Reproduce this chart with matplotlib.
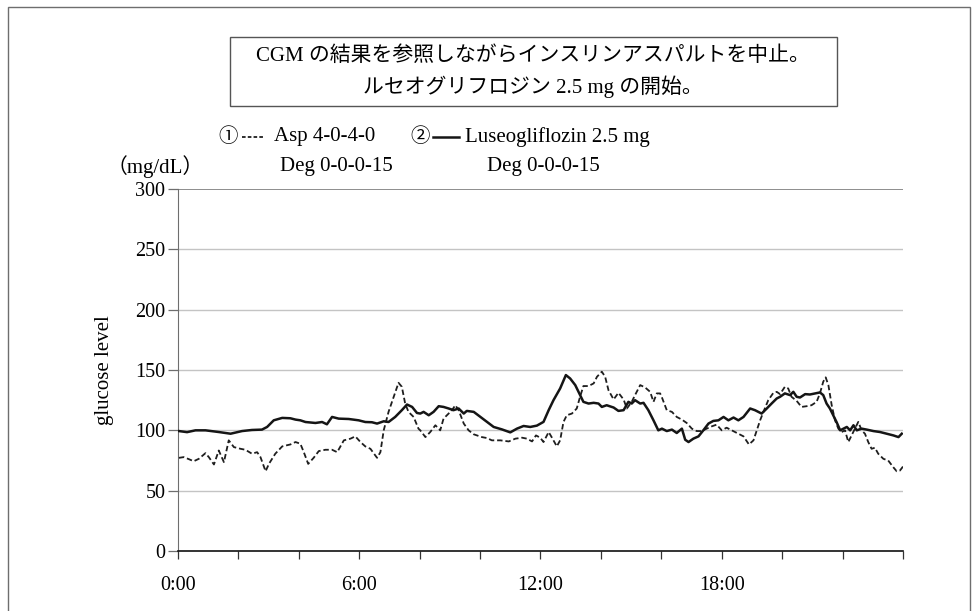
import matplotlib
matplotlib.use("Agg")
import matplotlib.pyplot as plt
from matplotlib.lines import Line2D
from matplotlib.patches import Rectangle

# --- CGM readings (hour of day, mg/dL) ---
asp_hours = [0.03, 0.19, 0.36, 0.52, 0.69, 0.91, 1.02, 1.19, 1.35, 1.52, 1.68, 1.85,
             2.07, 2.23, 2.45, 2.62, 2.73, 2.90, 3.01, 3.22, 3.45, 3.72, 3.89, 4.05,
             4.16, 4.31, 4.49, 4.66, 4.88, 5.10, 5.27, 5.49, 5.71, 5.87, 6.04, 6.20,
             6.37, 6.59, 6.70, 6.81, 6.97, 7.14, 7.30, 7.41, 7.52, 7.63, 7.80, 7.96,
             8.02, 8.19, 8.35, 8.52, 8.68, 8.79, 8.96, 9.07, 9.18, 9.29, 9.46, 9.62,
             9.79, 10.06, 10.23, 10.39, 10.67, 10.95, 11.17, 11.39, 11.55, 11.72, 11.85,
             11.99, 12.10, 12.27, 12.38, 12.54, 12.65, 12.76, 12.87, 13.04, 13.20, 13.31,
             13.42, 13.59, 13.76, 13.87, 14.03, 14.14, 14.25, 14.42, 14.58, 14.75, 14.86,
             15.02, 15.13, 15.30, 15.46, 15.63, 15.74, 15.85, 15.96, 16.02, 16.18, 16.35,
             16.51, 16.68, 16.84, 17.01, 17.17, 17.34, 17.50, 17.67, 17.83, 18.00, 18.16,
             18.33, 18.55, 18.72, 18.90, 19.05, 19.16, 19.27, 19.38, 19.54, 19.71, 19.82,
             19.93, 20.09, 20.20, 20.31, 20.48, 20.64, 20.81, 20.97, 21.14, 21.25, 21.36,
             21.44, 21.53, 21.64, 21.75, 21.86, 21.97, 22.08, 22.19, 22.30, 22.41, 22.52,
             22.63, 22.74, 22.85, 22.96, 23.07, 23.18, 23.35, 23.51, 23.68, 23.79, 23.90,
             24.0]
asp_glucose = [77.2, 77.8, 76.1, 74.4, 76.4, 81.1, 77.8, 71.7, 83.3, 73.6, 91.7, 86.1,
               84.7, 83.9, 80.6, 81.9, 77.8, 66.1, 72.2, 80.6, 86.7, 88.3, 90.3, 88.9,
               82.2, 72.2, 77.2, 82.8, 83.9, 83.9, 81.9, 91.7, 93.1, 95.0, 90.3, 86.7,
               84.7, 77.2, 81.9, 100.0, 115.3, 127.8, 139.4, 136.1, 122.2, 115.3, 111.1, 101.4,
               100.0, 94.4, 98.6, 104.2, 100.0, 109.7, 113.9, 116.7, 120.8, 116.7, 105.6, 100.0,
               96.7, 94.4, 93.6, 91.7, 91.7, 90.8, 93.1, 93.9, 93.1, 90.8, 95.8,
               93.9, 90.3, 98.6, 93.9, 86.7, 91.7, 106.9, 112.5, 113.9, 118.1, 127.8,
               136.7, 136.7, 138.9, 144.4, 148.6, 144.4, 133.3, 125.6, 131.1, 125.6, 118.1,
               123.6, 129.2, 137.5, 135.6, 131.9, 123.6, 130.6, 130.6, 127.2, 116.7, 115.3,
               111.1, 108.9, 106.1, 101.4, 99.4, 99.4, 101.4, 103.3, 104.7, 100.0, 102.2,
               100.0, 97.2, 95.0, 88.3, 91.7, 100.0, 108.3, 115.3, 125.0, 131.1, 131.9,
               130.0, 136.1, 134.7, 127.8, 124.4, 119.4, 120.0, 120.8, 123.6, 130.6, 140.3,
               143.9, 137.5, 120.8, 108.3, 101.4, 98.6, 100.0, 90.3, 95.8, 101.4, 107.0,
               100.0, 97.2, 90.3, 84.7, 85.6, 80.6, 76.4, 75.0, 69.4, 66.1, 66.7,
               70.0]

luseo_hours = [0.00, 0.30, 0.58, 0.91, 1.35, 1.74, 2.12, 2.45, 2.78, 2.95, 3.17, 3.45,
               3.72, 3.89, 4.05, 4.22, 4.55, 4.77, 4.93, 5.10, 5.32, 5.65, 5.98, 6.20,
               6.42, 6.59, 6.81, 6.97, 7.19, 7.41, 7.58, 7.75, 7.91, 8.02, 8.13, 8.30,
               8.46, 8.63, 8.79, 8.96, 9.12, 9.29, 9.46, 9.56, 9.79, 10.01, 10.23, 10.45,
               10.72, 11.00, 11.22, 11.44, 11.66, 11.88, 12.10, 12.27, 12.43, 12.65, 12.84,
               12.98, 13.15, 13.31, 13.42, 13.59, 13.76, 13.92, 14.03, 14.19, 14.42, 14.58,
               14.75, 14.91, 15.02, 15.13, 15.30, 15.41, 15.57, 15.74, 15.90, 16.02, 16.18,
               16.35, 16.51, 16.68, 16.79, 16.90, 17.06, 17.23, 17.39, 17.56, 17.72, 17.89,
               18.06, 18.22, 18.39, 18.55, 18.72, 18.94, 19.10, 19.32, 19.49, 19.65, 19.82,
               19.93, 20.09, 20.26, 20.37, 20.48, 20.59, 20.76, 20.92, 21.09, 21.25, 21.36,
               21.47, 21.58, 21.69, 21.80, 21.92, 22.03, 22.14, 22.25, 22.36, 22.47, 22.63,
               22.80, 23.02, 23.24, 23.46, 23.68, 23.85, 23.96]
luseo_glucose = [99.5, 98.5, 100.0, 100.0, 98.6, 97.2, 99.4, 100.3, 100.6, 102.8, 108.3, 110.3,
                 110.0, 108.9, 108.3, 106.9, 106.1, 106.9, 105.0, 111.1, 109.7, 109.4, 108.3, 106.9,
                 106.7, 105.6, 107.5, 106.9, 111.1, 116.7, 121.4, 119.4, 114.4, 113.9, 115.3, 112.5,
                 115.3, 120.0, 119.4, 118.1, 116.7, 118.1, 113.9, 116.1, 115.3, 111.1, 106.9, 102.8,
                 100.8, 98.3, 101.4, 103.6, 102.8, 103.9, 107.0, 116.7, 125.0, 134.7, 145.8,
                 143.0, 137.5, 129.2, 123.6, 122.2, 122.8, 122.2, 119.4, 120.8, 118.9, 116.1,
                 116.7, 123.6, 122.2, 125.0, 122.2, 122.8, 116.7, 108.3, 100.0, 101.4, 99.4,
                 100.6, 97.8, 101.4, 92.2, 90.3, 93.1, 95.0, 100.0, 105.6, 107.8, 108.3,
                 111.1, 108.3, 110.6, 108.3, 111.1, 118.1, 116.7, 113.9, 118.1, 122.2, 126.4,
                 127.8, 130.6, 129.2, 131.9, 127.8, 127.2, 130.0, 129.7, 130.6, 131.4, 129.2,
                 122.2, 118.1, 112.5, 106.9, 100.0, 101.4, 102.8, 100.0, 104.2, 100.0, 101.4,
                 100.6, 99.4, 98.6, 97.2, 95.8, 94.4, 97.2]

y_ticks = [0, 50, 100, 150, 200, 250, 300]
x_ticks = [0, 2, 4, 6, 8, 10, 12, 14, 16, 18, 20, 22, 24]
x_tick_labels = ["0:00", "", "", "6:00", "", "", "12:00", "", "", "18:00", "", "", ""]

title_lines = ["CGM の結果を参照しながらインスリンアスパルトを中止。",
               "ルセオグリフロジン 2.5 mg の開始。"]
legend_asp = ["①", "Asp 4-0-4-0", "Deg 0-0-0-15"]
legend_luseo = ["②", "Luseogliflozin 2.5 mg", "Deg 0-0-0-15"]
unit_label = "（mg/dL）"
y_label = "glucose level"

SERIF = ["Liberation Serif", "Noto Sans CJK JP", "DejaVu Sans"]
plt.rcParams["font.family"] = SERIF
FS = 15

W, H = 979, 611
fig = plt.figure(figsize=(W / 100, H / 100), dpi=100)


def fx(px):
    return px / W


def fy(py):
    return 1 - py / H


# outer frame
fig.patches.append(Rectangle((fx(8), fy(640)), fx(970) - fx(8), fy(7) - fy(640),
                             transform=fig.transFigure, fill=False,
                             edgecolor="#6e6e6e", linewidth=1.0))

# main plot area
ax = fig.add_axes([fx(178), fy(551), fx(903) - fx(178), fy(189) - fy(551)])
ax.set_xlim(0, 24)
ax.set_ylim(0, 300)

for yv in y_ticks[1:]:
    ax.axhline(yv, color="#7a7a7a" if yv == 300 else "#c4c4c4",
               linewidth=1.2 if yv == 300 else 1.0, zorder=1)

dash_line, = ax.plot(asp_hours, asp_glucose, color="#1e1e1e", linewidth=1.3,
                     zorder=3)
dash_line.set_dashes([3.0, 1.6])
ax.plot(luseo_hours, luseo_glucose, color="#151515", linewidth=1.8, zorder=4)

ax.set_yticks(y_ticks)
ax.set_xticks(x_ticks)
ax.set_xticklabels(x_tick_labels)
for s in ("top", "right"):
    ax.spines[s].set_visible(False)
ax.spines["left"].set_color("#6e6e6e")
ax.spines["bottom"].set_color("#111111")
ax.spines["bottom"].set_linewidth(1.2)
ax.tick_params(axis="y", direction="out", length=7, width=0.9, color="#6e6e6e",
               labelsize=FS - 0.5, pad=2)
ax.tick_params(axis="x", direction="out", length=6, width=0.9, color="#333333",
               labelsize=FS - 0.5, pad=12)
ax.set_ylabel(y_label, fontsize=FS)
ax.yaxis.set_label_coords((114 - 178) / 725, 0.5)

# title box
fig.patches.append(Rectangle((fx(230), fy(106)), fx(837) - fx(230), fy(37) - fy(106),
                             transform=fig.transFigure, fill=False,
                             edgecolor="#555555", linewidth=1.0))
fig.text(fx(533), fy(56), title_lines[0], ha="center", va="center", fontsize=FS)
fig.text(fx(533), fy(87), title_lines[1], ha="center", va="center", fontsize=FS)

# legend rows
fig.text(fx(228), fy(137), legend_asp[0], ha="center", va="center", fontsize=FS - 1)
fig.lines.append(Line2D([fx(242), fx(265)], [fy(137), fy(137)], transform=fig.transFigure,
                        color="#1e1e1e", linewidth=1.3, dashes=[2.0, 1.2]))
fig.text(fx(274), fy(137), legend_asp[1], ha="left", va="center", fontsize=FS)
fig.text(fx(280), fy(167), legend_asp[2], ha="left", va="center", fontsize=FS)

fig.text(fx(420), fy(137), legend_luseo[0], ha="center", va="center", fontsize=FS - 1)
fig.lines.append(Line2D([fx(433), fx(459)], [fy(137), fy(137)], transform=fig.transFigure,
                        color="#151515", linewidth=1.8))
fig.text(fx(465), fy(137), legend_luseo[1], ha="left", va="center", fontsize=FS)
fig.text(fx(487), fy(167), legend_luseo[2], ha="left", va="center", fontsize=FS)

fig.text(fx(155), fy(167), unit_label, ha="center", va="center", fontsize=FS)

fig.savefig("out.png", dpi=100, facecolor="white")
